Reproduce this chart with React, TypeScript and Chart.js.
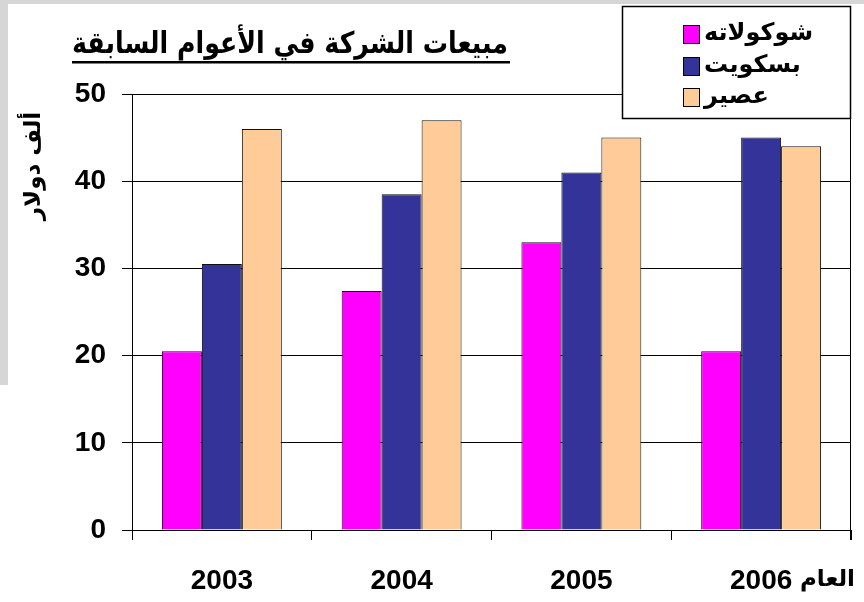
import React, { useEffect, useRef } from "react";
import { Chart, registerables } from "chart.js";

Chart.register(...registerables);

const years = ["2003", "2004", "2005", "2006"];
const chocolate = [20.5, 27.4, 33, 20.5];
const biscuit = [30.5, 38.5, 41, 45];
const juice = [46, 47, 45, 44];
const seriesNames = ["شوكولاته", "بسكويت", "عصير"];
const seriesColors = ["#FF00FF", "#333399", "#FFCC99"];
const yMin = 0;
const yMax = 50;
const yStep = 10;
const chartTitle = "مبيعات الشركة في الأعوام السابقة";
const yTitle = "ألف دولار";
const xTitle = "العام";

const LATIN = '"Liberation Sans", Arial, "DejaVu Sans", sans-serif';
const ARABIC = '"DejaVu Sans", "Liberation Sans", sans-serif';

const decorPlugin = {
  id: "decor",
  beforeDraw(chart: any) {
    const ctx = chart.ctx as CanvasRenderingContext2D;
    const w = chart.width;
    ctx.save();
    ctx.fillStyle = "#ffffff";
    ctx.fillRect(0, 0, w, chart.height);
    ctx.fillStyle = "#d6d6d6";
    ctx.fillRect(0, 0, w, 4);
    ctx.fillRect(0, 0, 8, 385);
    ctx.restore();
  },
  afterDraw(chart: any) {
    const ctx = chart.ctx as CanvasRenderingContext2D;
    const a = chart.chartArea;
    ctx.save();
    // right border of plot
    ctx.strokeStyle = "#000";
    ctx.lineWidth = 1;
    ctx.beginPath();
    ctx.moveTo(Math.round(a.right) - 0.5, a.top);
    ctx.lineTo(Math.round(a.right) - 0.5, a.bottom + 10);
    ctx.stroke();

    // title
    ctx.fillStyle = "#000";
    ctx.font = "bold 30px " + ARABIC;
    ctx.direction = "rtl";
    ctx.textAlign = "center";
    ctx.textBaseline = "alphabetic";
    const tw = ctx.measureText(chartTitle).width;
    const target = 436;
    const sx = target / tw;
    ctx.save();
    ctx.translate(290, 53);
    ctx.scale(sx, 1);
    ctx.fillText(chartTitle, 0, 0);
    ctx.restore();
    ctx.fillRect(72, 61, 438, 2.5);

    // y title
    ctx.save();
    ctx.translate(34, 166);
    ctx.rotate(-Math.PI / 2);
    ctx.font = "bold 23px " + ARABIC;
    ctx.textAlign = "center";
    ctx.textBaseline = "middle";
    ctx.fillText(yTitle, 0, 0);
    ctx.restore();

    // x title
    ctx.font = "bold 23px " + ARABIC;
    ctx.textAlign = "left";
    ctx.textBaseline = "middle";
    ctx.fillText(xTitle, 800, 580);

    // legend box
    ctx.fillStyle = "#fff";
    ctx.fillRect(622, 6, 228, 112);
    ctx.strokeStyle = "#000";
    ctx.lineWidth = 1.5;
    ctx.strokeRect(622.5, 6.5, 228, 112);
    const rows = [34, 66, 97];
    chart.data.datasets.forEach((ds: any, i: number) => {
      const cy = rows[i];
      ctx.fillStyle = ds.backgroundColor;
      ctx.fillRect(683, cy - 9, 16, 18);
      ctx.lineWidth = 1;
      ctx.strokeStyle = "#000";
      ctx.strokeRect(683.5, cy - 8.5, 16, 18);
      ctx.fillStyle = "#000";
      ctx.font = "bold 24px " + ARABIC;
      ctx.textAlign = "left";
      ctx.textBaseline = "middle";
      ctx.fillText(ds.label, 704, cy);
    });
    ctx.restore();
  },
};

export default function App() {
  const ref = useRef<HTMLCanvasElement | null>(null);
  useEffect(() => {
    document.body.style.margin = "0";
    const canvas = ref.current!;
    const datasets = [chocolate, biscuit, juice].map((d, i) => ({
      label: seriesNames[i],
      data: d,
      backgroundColor: seriesColors[i],
      borderColor: "#111",
      borderWidth: 1,
      categoryPercentage: 0.667,
      barPercentage: 1.0,
    }));
    const chart = new Chart(canvas, {
      type: "bar",
      data: { labels: years, datasets },
      options: {
        responsive: false,
        animation: false,
        devicePixelRatio: 1,
        layout: { padding: { top: 94, right: 13, left: 0, bottom: 0 } },
        plugins: {
          legend: { display: false },
          title: { display: false },
          tooltip: { enabled: false },
        },
        scales: {
          x: {
            afterFit: (s: any) => {
              s.height = 72;
            },
            grid: {
              display: true,
              drawOnChartArea: false,
              drawTicks: true,
              tickLength: 10,
              color: "#000",
              offset: true,
            },
            border: { display: true, color: "#000", width: 1 },
            ticks: {
              color: "#000",
              padding: 24,
              font: { family: LATIN, size: 28, weight: "bold" },
            },
          },
          y: {
            min: yMin,
            max: yMax,
            afterFit: (s: any) => {
              s.width = 132;
            },
            grid: {
              color: "#000",
              lineWidth: 1,
              drawTicks: true,
              tickLength: 10,
            },
            border: { display: true, color: "#000", width: 1 },
            ticks: {
              stepSize: yStep,
              color: "#000",
              padding: 16,
              font: { family: LATIN, size: 28, weight: "bold" },
            },
          },
        },
      },
      plugins: [decorPlugin],
    });
    return () => chart.destroy();
  }, []);
  return <canvas ref={ref} width={864} height={602} style={{ display: "block" }} />;
}
